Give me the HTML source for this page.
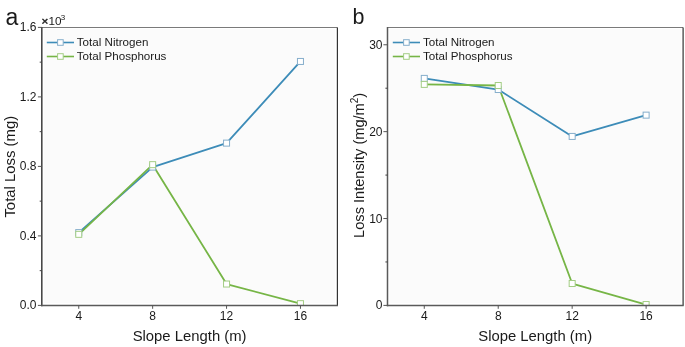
<!DOCTYPE html><html><head><meta charset="utf-8"><style>html,body{margin:0;padding:0;background:#fff;}svg{display:block;will-change:transform;}text{font-family:"Liberation Sans", sans-serif;fill:#1a1a1a;}</style></head><body>
<svg width="685" height="347" viewBox="0 0 685 347">
<rect x="0" y="0" width="685" height="347" fill="#fff"/>
<rect x="44.00" y="29" width="291.00" height="274" fill="#fbfbfb"/>
<clipPath id="c0"><rect x="41.80" y="27.40" width="295.60" height="278.00"/></clipPath><g clip-path="url(#c0)">
<polyline points="78.75,232.60 152.65,167.09 226.55,143.12 300.45,61.45" fill="none" stroke="#3d8cb8" stroke-width="1.8" stroke-linejoin="round"/>
<polyline points="78.75,234.34 152.65,164.66 226.55,284.03 300.45,303.66" fill="none" stroke="#76b546" stroke-width="1.8" stroke-linejoin="round"/>
<rect x="75.75" y="229.60" width="6" height="6" fill="#fff" stroke="#86aecb" stroke-width="1"/>
<rect x="149.65" y="164.09" width="6" height="6" fill="#fff" stroke="#86aecb" stroke-width="1"/>
<rect x="223.55" y="140.12" width="6" height="6" fill="#fff" stroke="#86aecb" stroke-width="1"/>
<rect x="297.45" y="58.45" width="6" height="6" fill="#fff" stroke="#86aecb" stroke-width="1"/>
<rect x="75.75" y="231.34" width="6" height="6" fill="#fff" stroke="#a3cd84" stroke-width="1"/>
<rect x="149.65" y="161.66" width="6" height="6" fill="#fff" stroke="#a3cd84" stroke-width="1"/>
<rect x="223.55" y="281.03" width="6" height="6" fill="#fff" stroke="#a3cd84" stroke-width="1"/>
<rect x="297.45" y="300.66" width="6" height="6" fill="#fff" stroke="#a3cd84" stroke-width="1"/>
</g>
<line x1="41.80" y1="27.50" x2="337.40" y2="27.50" stroke="#7a7a7a" stroke-width="1.1"/>
<line x1="337.40" y1="27.40" x2="337.40" y2="305.40" stroke="#333" stroke-width="1.2"/>
<line x1="41.80" y1="26.90" x2="41.80" y2="306.20" stroke="#484848" stroke-width="1.60"/>
<line x1="41.10" y1="305.50" x2="338.00" y2="305.50" stroke="#5a5a5a" stroke-width="1.6"/>
<line x1="37.90" y1="305.40" x2="41.80" y2="305.40" stroke="#555" stroke-width="1"/>
<text x="36.40" y="309.40" font-size="12" text-anchor="end">0.0</text>
<line x1="37.90" y1="235.90" x2="41.80" y2="235.90" stroke="#555" stroke-width="1"/>
<text x="36.40" y="239.90" font-size="12" text-anchor="end">0.4</text>
<line x1="37.90" y1="166.40" x2="41.80" y2="166.40" stroke="#555" stroke-width="1"/>
<text x="36.40" y="170.40" font-size="12" text-anchor="end">0.8</text>
<line x1="37.90" y1="96.90" x2="41.80" y2="96.90" stroke="#555" stroke-width="1"/>
<text x="36.40" y="100.90" font-size="12" text-anchor="end">1.2</text>
<line x1="37.90" y1="27.40" x2="41.80" y2="27.40" stroke="#555" stroke-width="1"/>
<text x="36.40" y="31.40" font-size="12" text-anchor="end">1.6</text>
<line x1="39.70" y1="270.65" x2="41.80" y2="270.65" stroke="#444" stroke-width="1"/>
<line x1="39.70" y1="201.15" x2="41.80" y2="201.15" stroke="#444" stroke-width="1"/>
<line x1="39.70" y1="131.65" x2="41.80" y2="131.65" stroke="#444" stroke-width="1"/>
<line x1="39.70" y1="62.15" x2="41.80" y2="62.15" stroke="#444" stroke-width="1"/>
<line x1="78.75" y1="305.40" x2="78.75" y2="308.80" stroke="#555" stroke-width="1"/>
<text x="78.75" y="319.70" font-size="12" text-anchor="middle">4</text>
<line x1="152.65" y1="305.40" x2="152.65" y2="308.80" stroke="#555" stroke-width="1"/>
<text x="152.65" y="319.70" font-size="12" text-anchor="middle">8</text>
<line x1="226.55" y1="305.40" x2="226.55" y2="308.80" stroke="#555" stroke-width="1"/>
<text x="226.55" y="319.70" font-size="12" text-anchor="middle">12</text>
<line x1="300.45" y1="305.40" x2="300.45" y2="308.80" stroke="#555" stroke-width="1"/>
<text x="300.45" y="319.70" font-size="12" text-anchor="middle">16</text>
<text x="189.60" y="340.8" font-size="14.85" text-anchor="middle">Slope Length (m)</text>
<text transform="translate(14.80,166.70) rotate(-90)" font-size="14.9" text-anchor="middle">Total Loss (mg)</text>
<text x="5.60" y="25.20" font-size="23.00">a</text>
<line x1="46.80" y1="42.50" x2="74.00" y2="42.50" stroke="#3d8cb8" stroke-width="1.6"/>
<rect x="57.60" y="39.70" width="5.6" height="5.6" fill="#fff" stroke="#86aecb" stroke-width="1"/>
<text x="76.80" y="46.20" font-size="11.6">Total Nitrogen</text>
<line x1="46.80" y1="56.50" x2="74.00" y2="56.50" stroke="#76b546" stroke-width="1.6"/>
<rect x="57.60" y="53.70" width="5.6" height="5.6" fill="#fff" stroke="#a3cd84" stroke-width="1"/>
<text x="76.80" y="60.20" font-size="11.6">Total Phosphorus</text>
<rect x="389.50" y="29" width="291.50" height="274" fill="#fbfbfb"/>
<clipPath id="c1"><rect x="387.30" y="27.40" width="295.80" height="278.00"/></clipPath><g clip-path="url(#c1)">
<polyline points="424.28,78.40 498.23,89.52 572.17,136.43 646.12,115.14" fill="none" stroke="#3d8cb8" stroke-width="1.8" stroke-linejoin="round"/>
<polyline points="424.28,84.39 498.23,85.52 572.17,283.51 646.12,304.53" fill="none" stroke="#76b546" stroke-width="1.8" stroke-linejoin="round"/>
<rect x="421.28" y="75.40" width="6" height="6" fill="#fff" stroke="#86aecb" stroke-width="1"/>
<rect x="495.23" y="86.52" width="6" height="6" fill="#fff" stroke="#86aecb" stroke-width="1"/>
<rect x="569.17" y="133.43" width="6" height="6" fill="#fff" stroke="#86aecb" stroke-width="1"/>
<rect x="643.12" y="112.14" width="6" height="6" fill="#fff" stroke="#86aecb" stroke-width="1"/>
<rect x="421.28" y="81.39" width="6" height="6" fill="#fff" stroke="#a3cd84" stroke-width="1"/>
<rect x="495.23" y="82.52" width="6" height="6" fill="#fff" stroke="#a3cd84" stroke-width="1"/>
<rect x="569.17" y="280.51" width="6" height="6" fill="#fff" stroke="#a3cd84" stroke-width="1"/>
<rect x="643.12" y="301.53" width="6" height="6" fill="#fff" stroke="#a3cd84" stroke-width="1"/>
</g>
<line x1="387.30" y1="27.50" x2="683.10" y2="27.50" stroke="#7a7a7a" stroke-width="1.1"/>
<line x1="683.10" y1="27.40" x2="683.10" y2="305.40" stroke="#333" stroke-width="1.2"/>
<line x1="387.50" y1="26.90" x2="387.50" y2="306.20" stroke="#5a5a5a" stroke-width="1.50"/>
<line x1="386.80" y1="305.50" x2="683.70" y2="305.50" stroke="#5a5a5a" stroke-width="1.6"/>
<line x1="383.40" y1="305.40" x2="387.30" y2="305.40" stroke="#555" stroke-width="1"/>
<text x="382.50" y="309.40" font-size="12" text-anchor="end">0</text>
<line x1="383.40" y1="218.52" x2="387.30" y2="218.52" stroke="#555" stroke-width="1"/>
<text x="382.50" y="222.52" font-size="12" text-anchor="end">10</text>
<line x1="383.40" y1="131.65" x2="387.30" y2="131.65" stroke="#555" stroke-width="1"/>
<text x="382.50" y="135.65" font-size="12" text-anchor="end">20</text>
<line x1="383.40" y1="44.77" x2="387.30" y2="44.77" stroke="#555" stroke-width="1"/>
<text x="382.50" y="48.77" font-size="12" text-anchor="end">30</text>
<line x1="385.40" y1="261.96" x2="387.50" y2="261.96" stroke="#444" stroke-width="1"/>
<line x1="385.40" y1="175.09" x2="387.50" y2="175.09" stroke="#444" stroke-width="1"/>
<line x1="385.40" y1="88.21" x2="387.50" y2="88.21" stroke="#444" stroke-width="1"/>
<line x1="424.28" y1="305.40" x2="424.28" y2="308.80" stroke="#555" stroke-width="1"/>
<text x="424.28" y="319.70" font-size="12" text-anchor="middle">4</text>
<line x1="498.23" y1="305.40" x2="498.23" y2="308.80" stroke="#555" stroke-width="1"/>
<text x="498.23" y="319.70" font-size="12" text-anchor="middle">8</text>
<line x1="572.17" y1="305.40" x2="572.17" y2="308.80" stroke="#555" stroke-width="1"/>
<text x="572.17" y="319.70" font-size="12" text-anchor="middle">12</text>
<line x1="646.12" y1="305.40" x2="646.12" y2="308.80" stroke="#555" stroke-width="1"/>
<text x="646.12" y="319.70" font-size="12" text-anchor="middle">16</text>
<text x="535.20" y="340.8" font-size="14.85" text-anchor="middle">Slope Length (m)</text>
<text transform="translate(363.80,165.35) rotate(-90)" font-size="14.6" text-anchor="middle">Loss Intensity (mg/m<tspan font-size="10" dy="-5.8">2</tspan><tspan dy="5.8">)</tspan></text>
<text x="352.50" y="24.40" font-size="21.50">b</text>
<line x1="392.80" y1="42.50" x2="420.00" y2="42.50" stroke="#3d8cb8" stroke-width="1.6"/>
<rect x="403.60" y="39.70" width="5.6" height="5.6" fill="#fff" stroke="#86aecb" stroke-width="1"/>
<text x="423.00" y="46.20" font-size="11.6">Total Nitrogen</text>
<line x1="392.80" y1="56.50" x2="420.00" y2="56.50" stroke="#76b546" stroke-width="1.6"/>
<rect x="403.60" y="53.70" width="5.6" height="5.6" fill="#fff" stroke="#a3cd84" stroke-width="1"/>
<text x="423.00" y="60.20" font-size="11.6">Total Phosphorus</text>
<text x="41.6" y="25.2" font-size="11.7"><tspan stroke="#1a1a1a" stroke-width="0.45">×</tspan>10<tspan font-size="8" dx="-0.8" dy="-5.2">3</tspan></text>
</svg></body></html>
